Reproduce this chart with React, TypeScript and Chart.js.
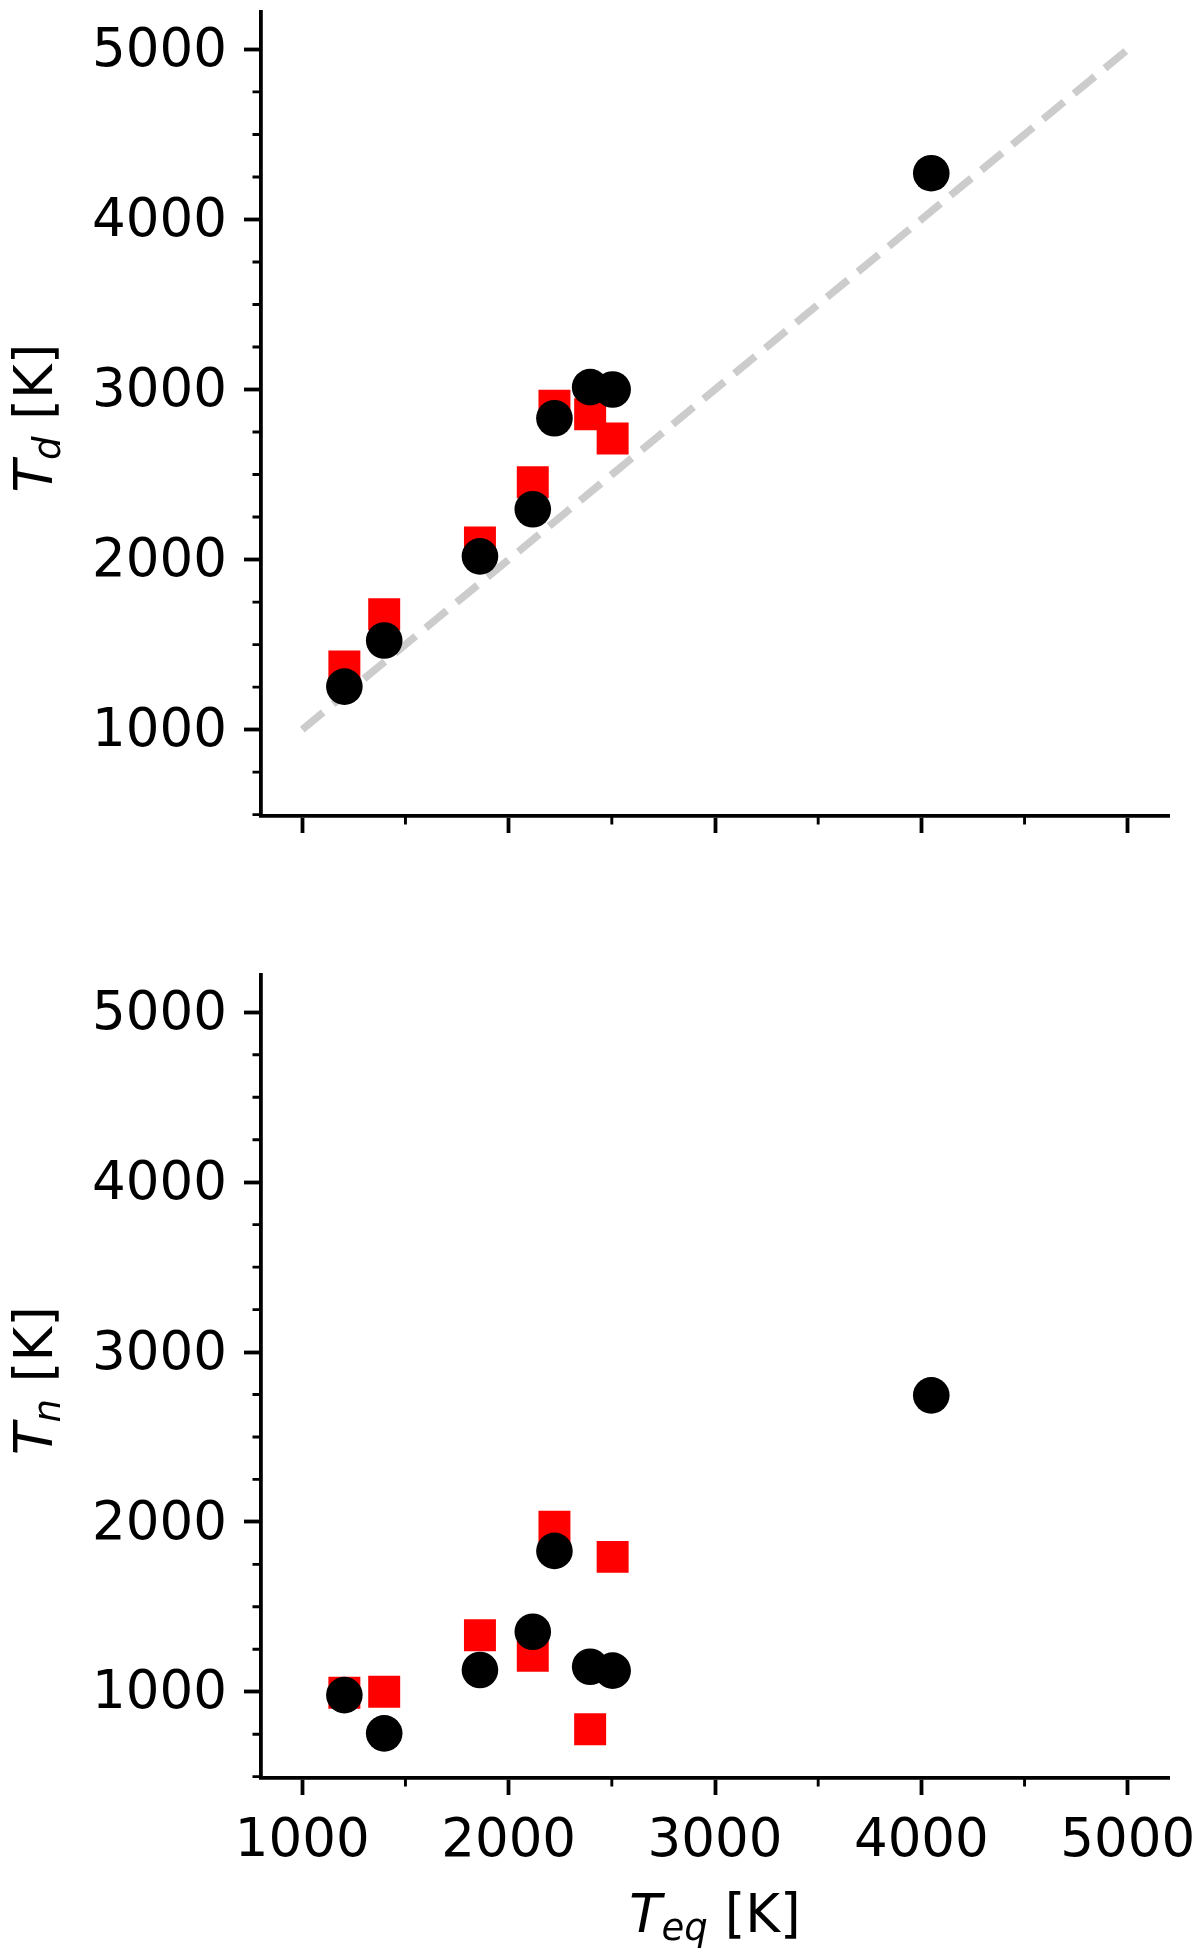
import React, { useEffect, useRef } from 'react';
import { Chart, registerables } from 'chart.js';

Chart.register(...registerables);

// ---- data ----
const teqCircle = [1204, 1397, 1861, 2117, 2222, 2395, 2504, 4048];
const tdCircle = [1253, 1524, 2019, 2296, 2831, 3014, 3000, 4272];
const teqSquare = [1204, 1397, 1861, 2117, 2222, 2395, 2504];
const tdSquare = [1371, 1678, 2100, 2455, 2904, 2855, 2712];
const tnCircle = [980, 755, 1128, 1353, 1829, 1147, 1124, 2745];
const tnSquare = [994, 1000, 1333, 1212, 1971, 779, 1794];
const oneToOneX = [1000, 5000];
const oneToOneY = [1000, 5000];
const majorTicks = [1000, 2000, 3000, 4000, 5000];
const xMinorTicks = [1500, 2500, 3500, 4500];
const yMinorTicks = [500, 750, 1250, 1500, 1750, 2250, 2500, 2750, 3250, 3500, 3750, 4250, 4500, 4750];
const xRange = [800, 5200];
const yRange = [492, 5220];

const FONT = '"DejaVu Sans", "Liberation Sans", sans-serif';
const FS = 53;
const SUB_FS = 37;

type Part = { text: string; italic: boolean; size: number; dy: number };

function drawParts(ctx: CanvasRenderingContext2D, parts: Part[]) {
  let total = 0;
  const widths: number[] = [];
  for (const p of parts) {
    ctx.font = `${p.italic ? 'italic ' : ''}${p.size}px ${FONT}`;
    const w = ctx.measureText(p.text).width;
    widths.push(w);
    total += w;
  }
  let x = -total / 2;
  ctx.textBaseline = 'alphabetic';
  ctx.textAlign = 'left';
  ctx.fillStyle = '#000';
  parts.forEach((p, i) => {
    ctx.font = `${p.italic ? 'italic ' : ''}${p.size}px ${FONT}`;
    ctx.fillText(p.text, x, p.dy);
    x += widths[i];
  });
}

function makePlugin(yLabelSub: string, showXTitle: boolean) {
  return {
    id: 'extras',
    afterDraw(chart: any) {
      const ctx: CanvasRenderingContext2D = chart.ctx;
      const xs = chart.scales.x;
      const ys = chart.scales.y;
      const area = chart.chartArea;
      ctx.save();
      ctx.strokeStyle = '#000';
      ctx.lineWidth = 2.9;
      ctx.lineCap = 'butt';
      ctx.beginPath();
      for (const v of xMinorTicks) {
        const px = xs.getPixelForValue(v);
        ctx.moveTo(px, area.bottom);
        ctx.lineTo(px, area.bottom + 8.5);
      }
      for (const v of yMinorTicks) {
        if (v < yRange[0] || v > yRange[1]) continue;
        const py = ys.getPixelForValue(v);
        ctx.moveTo(area.left, py);
        ctx.lineTo(area.left - 8.5, py);
      }
      ctx.stroke();
      ctx.restore();

      // y title
      ctx.save();
      ctx.translate(52, (area.top + area.bottom) / 2 + 4);
      ctx.rotate(-Math.PI / 2);
      drawParts(ctx, [
        { text: 'T', italic: true, size: FS, dy: 0 },
        { text: yLabelSub, italic: true, size: SUB_FS, dy: 8 },
        { text: ' [K]', italic: false, size: FS, dy: 0 },
      ]);
      ctx.restore();

      if (showXTitle) {
        ctx.save();
        ctx.translate((area.left + area.right) / 2, area.bottom + 154);
        drawParts(ctx, [
          { text: 'T', italic: true, size: FS, dy: 0 },
          { text: 'eq', italic: true, size: SUB_FS, dy: 8 },
          { text: ' [K]', italic: false, size: FS, dy: 0 },
        ]);
        ctx.restore();
      }
    },
  };
}

function buildConfig(yVals: number[], ySq: number[], withLine: boolean, showXLabels: boolean, padTop: number, xAxisH: number, sub: string) {
  const datasets: any[] = [
    {
      label: 'circles',
      data: teqCircle.map((x, i) => ({ x, y: yVals[i] })),
      pointStyle: 'circle',
      pointRadius: 18.3,
      pointHoverRadius: 18.3,
      backgroundColor: '#000000',
      borderWidth: 0,
      pointBorderWidth: 0,
      showLine: false,
      order: 0,
    },
    {
      label: 'squares',
      data: teqSquare.map((x, i) => ({ x, y: ySq[i] })),
      pointStyle: 'rect',
      pointRadius: 22.6,
      pointHoverRadius: 22.6,
      backgroundColor: '#ff0000',
      borderWidth: 0,
      pointBorderWidth: 0,
      showLine: false,
      order: 1,
    },
  ];
  if (withLine) {
    datasets.push({
      label: 'one-to-one',
      data: oneToOneX.map((x, i) => ({ x, y: oneToOneY[i] })),
      showLine: true,
      borderColor: '#cccccc',
      borderWidth: 7.5,
      borderDash: [27, 13],
      borderCapStyle: 'butt',
      pointRadius: 0,
      pointHoverRadius: 0,
      fill: false,
      order: 2,
    });
  }
  const tickFont = { family: FONT, size: FS };
  const zeroPad = (s: any) => {
    s.paddingTop = 0;
    s.paddingBottom = 0;
    s.paddingLeft = 0;
    s.paddingRight = 0;
  };
  return {
    type: 'scatter' as const,
    data: { datasets },
    plugins: [makePlugin(sub, showXLabels)],
    options: {
      animation: false,
      responsive: false,
      maintainAspectRatio: false,
      events: [],
      layout: { autoPadding: false, padding: { top: padTop, right: 31, left: 0, bottom: 0 } },
      plugins: { legend: { display: false }, tooltip: { enabled: false } },
      scales: {
        x: {
          type: 'linear',
          position: 'bottom',
          min: xRange[0],
          max: xRange[1],
          afterBuildTicks: (s: any) => {
            s.ticks = majorTicks.map((v) => ({ value: v }));
          },
          afterFit: (s: any) => {
            s.height = xAxisH;
            zeroPad(s);
          },
          grid: {
            display: true,
            drawOnChartArea: false,
            drawTicks: true,
            tickLength: 17,
            tickWidth: 3.8,
            tickColor: '#000',
          },
          border: { display: true, color: '#000', width: 3.8 },
          ticks: {
            display: showXLabels,
            font: tickFont,
            color: '#000',
            padding: 15,
            maxRotation: 0,
            autoSkip: false,
            callback: (v: any) => String(v),
          },
        },
        y: {
          type: 'linear',
          position: 'left',
          min: yRange[0],
          max: yRange[1],
          afterBuildTicks: (s: any) => {
            s.ticks = majorTicks.map((v) => ({ value: v }));
          },
          afterFit: (s: any) => {
            s.width = 261;
            zeroPad(s);
          },
          grid: {
            display: true,
            drawOnChartArea: false,
            drawTicks: true,
            tickLength: 17,
            tickWidth: 3.8,
            tickColor: '#000',
          },
          border: { display: true, color: '#000', width: 3.8 },
          ticks: {
            font: tickFont,
            color: '#000',
            padding: 17,
            labelOffset: 3,
            autoSkip: false,
            callback: (v: any) => String(v),
          },
        },
      },
    },
  };
}

export default function App() {
  const topRef = useRef<HTMLCanvasElement>(null);
  const botRef = useRef<HTMLCanvasElement>(null);

  useEffect(() => {
    const c1 = new Chart(topRef.current as HTMLCanvasElement, buildConfig(tdCircle, tdSquare, true, false, 12, 84, 'd') as any);
    const c2 = new Chart(botRef.current as HTMLCanvasElement, buildConfig(tnCircle, tnSquare, false, true, 75, 181, 'n') as any);
    return () => {
      c1.destroy();
      c2.destroy();
    };
  }, []);

  return (
    <div style={{ position: 'absolute', left: 0, top: 0, width: 1200, height: 1959, background: '#fff' }}>
      <canvas ref={topRef} width={1200} height={900} style={{ position: 'absolute', left: 0, top: 0, width: 1200, height: 900 }} />
      <canvas ref={botRef} width={1200} height={1059} style={{ position: 'absolute', left: 0, top: 900, width: 1200, height: 1059 }} />
    </div>
  );
}
